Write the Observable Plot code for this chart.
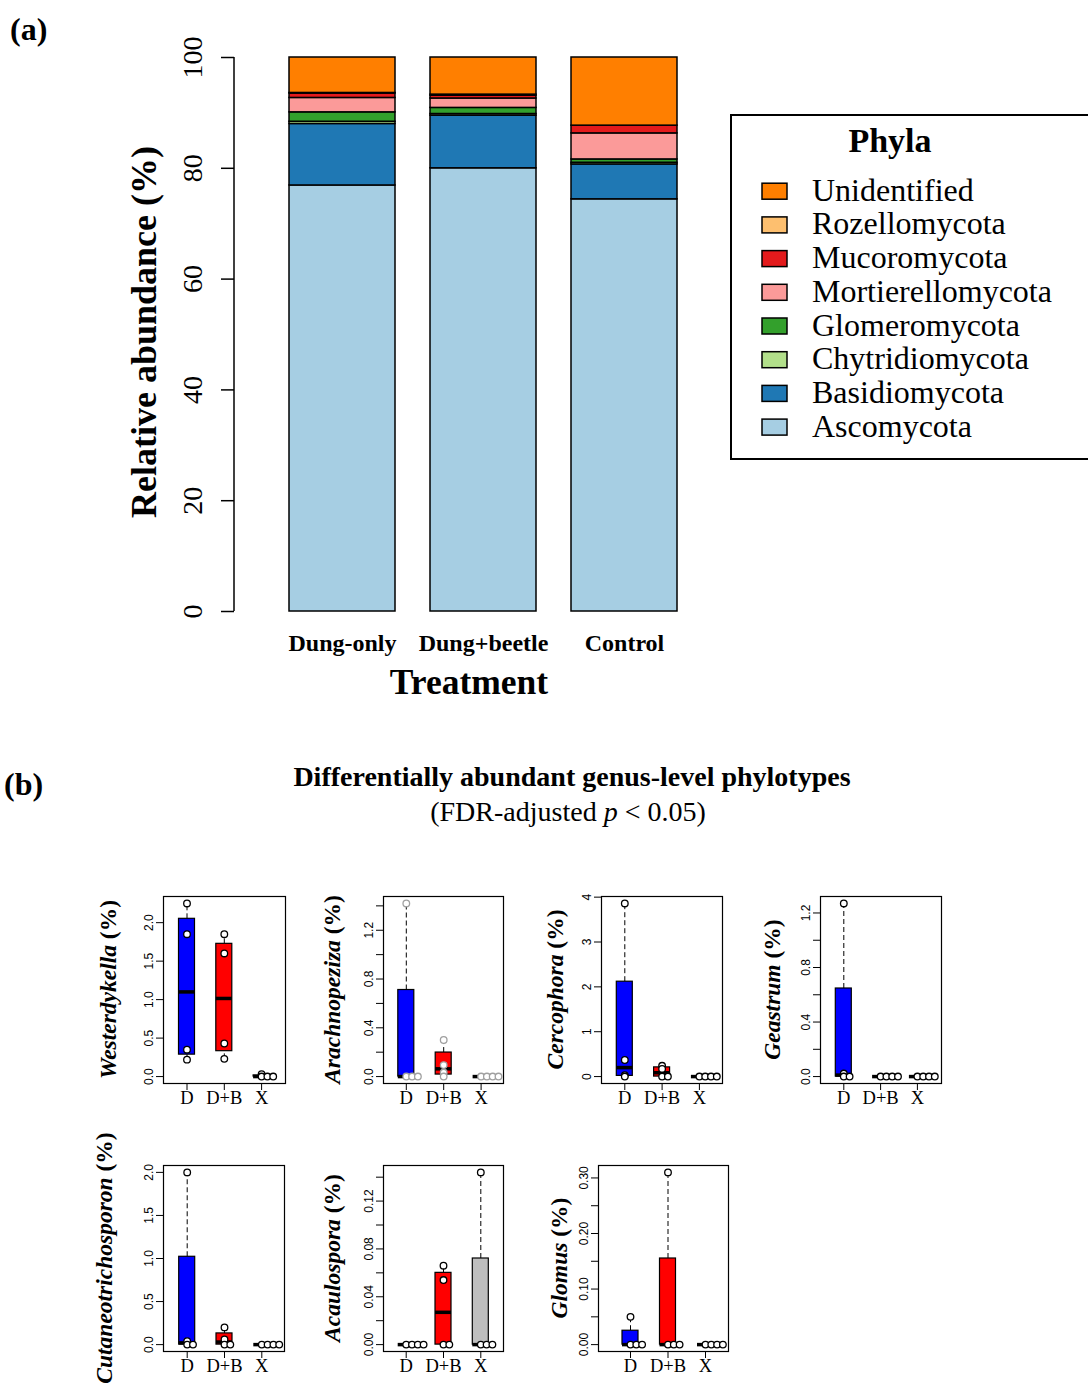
<!DOCTYPE html>
<html><head><meta charset="utf-8">
<script src="https://cdn.jsdelivr.net/npm/d3@7"></script>
<script src="https://cdn.jsdelivr.net/npm/@observablehq/plot@0.6"></script>
<style>
html,body{margin:0;padding:0;background:#fff;}
#page{position:relative;width:1088px;height:1386px;overflow:hidden;background:#fff;font-family:"Liberation Serif","Times New Roman",serif;}
.abs{position:absolute;}
</style></head><body><div id="page"></div>
<script>
// ---------------- DATA ----------------
// Panel (a): relative abundance (%) of phyla per treatment
const treatments = ["Dung-only", "Dung+beetle", "Control"];
const phyla = ["Ascomycota", "Basidiomycota", "Chytridiomycota", "Glomeromycota", "Mortierellomycota", "Mucoromycota", "Rozellomycota", "Unidentified"];
const phylaColors = ["#A6CEE3", "#1F78B4", "#B2DF8A", "#33A02C", "#FB9A99", "#E31A1C", "#FDBF6F", "#FF7F00"];
const ascomycota = [76.9, 80.0, 74.4];
const basidiomycota = [11.1, 9.5, 6.3];
const chytridiomycota = [0.4, 0.3, 0.3];
const glomeromycota = [1.7, 1.1, 0.6];
const mortierellomycota = [2.6, 1.7, 4.7];
const mucoromycota = [0.8, 0.5, 1.4];
const rozellomycota = [0.1, 0.2, 0.0];
const unidentified = [6.4, 6.7, 12.3];
const yTicksA = [0, 20, 40, 60, 80, 100];

// Panel (b): genus relative abundance (%) per sample, groups D, D+B, X
const groupNames = ["D", "D+B", "X"];
const boxColors = ["#0000FF", "#FF0000", "#BEBEBE"];
const westerdykella = [[2.25, 1.85, 0.35, 0.22], [1.85, 1.60, 0.43, 0.23], [0.03, 0, 0, 0]];
const arachnopeziza = [[1.42, 0, 0, 0], [0.30, 0.094, 0.033, 0], [0, 0, 0, 0]];
const cercophora = [[3.86, 0.37, 0.03, 0], [0.24, 0.17, 0, 0], [0, 0, 0, 0]];
const geastrum = [[1.27, 0.022, 0, 0], [0, 0, 0, 0], [0, 0, 0, 0]];
const cutaneotrichosporon = [[2.0, 0.04, 0, 0], [0.20, 0.06, 0, 0], [0, 0, 0, 0]];
const acaulospora = [[0, 0, 0, 0], [0.066, 0.054, 0, 0], [0.144, 0, 0, 0]];
const glomus = [[0.05, 0, 0, 0], [0.31, 0, 0, 0], [0, 0, 0, 0]];

const westerdykellaTicks = [0, 0.5, 1.0, 1.5, 2.0];
const westerdykellaLabels = [0, 0.5, 1.0, 1.5, 2.0];
const arachnopezizaTicks = [0, 0.2, 0.4, 0.6, 0.8, 1.0, 1.2, 1.4];
const arachnopezizaLabels = [0, 0.4, 0.8, 1.2];
const cercophoraTicks = [0, 1, 2, 3, 4];
const cercophoraLabels = [0, 1, 2, 3, 4];
const geastrumTicks = [0, 0.2, 0.4, 0.6, 0.8, 1.0, 1.2];
const geastrumLabels = [0, 0.4, 0.8, 1.2];
const cutaneotrichosporonTicks = [0, 0.5, 1.0, 1.5, 2.0];
const cutaneotrichosporonLabels = [0, 0.5, 1.0, 1.5, 2.0];
const acaulosporaTicks = [0, 0.02, 0.04, 0.06, 0.08, 0.10, 0.12, 0.14];
const acaulosporaLabels = [0, 0.04, 0.08, 0.12];
const glomusTicks = [0, 0.05, 0.10, 0.15, 0.20, 0.25, 0.30];
const glomusLabels = [0, 0.10, 0.20, 0.30];

// ---------------- LAYOUT HELPERS ----------------
const page = document.getElementById("page");
function place(el, left, top, w) {
  const d = document.createElement("div");
  d.className = "abs";
  d.style.left = left + "px"; d.style.top = top + "px";
  if (w) d.style.width = w + "px";
  d.appendChild(el); page.appendChild(d); return el;
}

// ---------------- PANEL (a) ----------------
const phylumValues = [ascomycota, basidiomycota, chytridiomycota, glomeromycota, mortierellomycota, mucoromycota, rozellomycota, unidentified];
const rowsA = [];
phyla.forEach((p, j) => treatments.forEach((t, i) => rowsA.push({treatment: t, phylum: p, value: phylumValues[j][i]})));

const plotA = Plot.plot({
  width: 720, height: 720,
  marginLeft: 234, marginTop: 57, marginBottom: 109, marginRight: 10,
  x: {domain: treatments, range: [288, 678], paddingInner: 0.25, paddingOuter: 0},
  y: {domain: [0, 100]},
  color: {domain: phyla, range: phylaColors},
  style: {fontFamily: "Liberation Serif", background: "transparent", overflow: "visible", color: "black", maxWidth: "none"},
  marks: [
    Plot.barY(rowsA, {x: "treatment", y: "value", fill: "phylum", stroke: "black", strokeWidth: 1.5}),
    Plot.axisY({ticks: yTicksA, tickRotate: -90, tickSize: 13, tickPadding: 20, fontSize: 28, label: null, strokeWidth: 1.5}),
    Plot.axisX({tickSize: 0, tickPadding: 22, fontSize: 24, fontWeight: "bold", label: null})
  ]
});
{
  const ys = plotA.scale("y");
  d3.select(plotA).append("line")
    .attr("x1", 234).attr("x2", 234)
    .attr("y1", ys.apply(0)).attr("y2", ys.apply(100))
    .attr("stroke", "black").attr("stroke-width", 1.5);
}
place(plotA, 0, 0, 720);

// ---------------- PANEL (b) ----------------
function fivenum(v) {
  const s = v.slice().sort(d3.ascending);
  const n = s.length;
  const n4 = Math.floor((n + 3) / 2) / 2;
  const idx = [1, n4, (n + 1) / 2, n + 1 - n4, n];
  return idx.map(k => 0.5 * (s[Math.floor(k) - 1] + s[Math.ceil(k) - 1]));
}

function boxPanel(genus, values, ticks, labels, decimals, layout, pointStroke) {
  const [fl, ft, fw, fh, labX, off, ppu] = layout;
  const mL = 80, mT = 5, mR = 5, mB = 40;
  const all = values.flat();
  const mn = d3.min(all), mx = d3.max(all), r = mx - mn;
  const yDom = [mn - 0.04 * r, mx + 0.04 * r];
  const xDom = [1 - off / ppu, 1 + (fw - off) / ppu];
  const hw = 8 / ppu, step = 5.8 / ppu;
  const stats = values.map((v, gi) => {
    const f = fivenum(v);
    const iqr = f[3] - f[1];
    const lo = d3.min(v.filter(x => x >= f[1] - 1.5 * iqr));
    const hi = d3.max(v.filter(x => x <= f[3] + 1.5 * iqr));
    return {g: gi + 1, name: groupNames[gi], q1: f[1], med: f[2], q3: f[3], lo, hi};
  });
  const pts = [];
  values.forEach((v, gi) => {
    const seen = new Map();
    v.forEach(val => {
      const k = seen.get(val) || 0; seen.set(val, k + 1);
      pts.push({x: gi + 1 + k * step, y: val});
    });
  });
  const plot = Plot.plot({
    width: mL + fw + mR, height: mT + fh + mB,
    marginLeft: mL, marginTop: mT, marginRight: mR, marginBottom: mB,
    x: {domain: xDom},
    y: {domain: yDom},
    color: {domain: groupNames, range: boxColors},
    style: {fontFamily: "Liberation Serif", background: "transparent", overflow: "visible", color: "black", maxWidth: "none"},
    marks: [
      Plot.ruleX(stats, {x: "g", y1: "q3", y2: "hi", stroke: "black", strokeDasharray: "5,3"}),
      Plot.ruleX(stats, {x: "g", y1: "lo", y2: "q1", stroke: "black", strokeDasharray: "5,3"}),
      Plot.rect(stats, {x1: d => d.g - hw, x2: d => d.g + hw, y1: "q1", y2: "q3", fill: "name", stroke: "black", strokeWidth: 1.2}),
      Plot.ruleY(stats, {y: "med", x1: d => d.g - hw, x2: d => d.g + hw, stroke: "black", strokeWidth: 3.5}),
      Plot.dot(pts, {x: "x", y: "y", r: 3.3, fill: "white", stroke: pointStroke, strokeWidth: 1.3}),
      Plot.frame({stroke: "black", strokeWidth: 1.2}),
      Plot.axisY({ticks, tickFormat: d => labels.includes(d) ? d.toFixed(decimals) : "", tickRotate: -90, tickSize: 7, tickPadding: 4, fontSize: 12, fontFamily: "Liberation Sans", label: null}),
      Plot.axisX({ticks: [1, 2, 3], tickFormat: d => groupNames[d - 1], tickSize: 7, tickPadding: 0, fontSize: 18.5, label: null})
    ]
  });
  const t = d3.select(plot).append("text")
    .attr("transform", `translate(${labX - (fl - mL)},${mT + fh / 2}) rotate(-90)`)
    .attr("text-anchor", "middle").attr("dominant-baseline", "central")
    .attr("font-family", "Liberation Serif").attr("font-size", 23.5).attr("font-weight", "bold")
    .attr("fill", "black");
  t.append("tspan").attr("font-style", "italic").text(genus);
  t.append("tspan").text(" (%)");
  place(plot, fl - mL, ft - mT, mL + fw + mR);
}

// layout: frameLeft, frameTop, frameWidth, frameHeight, labelCenterX, firstTickOffset, pxPerUnit
boxPanel("Westerdykella", westerdykella, westerdykellaTicks, westerdykellaLabels, 1, [163, 896, 122, 187, 108, 23.5, 37.3], "black");
boxPanel("Arachnopeziza", arachnopeziza, arachnopezizaTicks, arachnopezizaLabels, 1, [383, 896, 120, 187, 332, 22.8, 37.4], "#A0A0A0");
boxPanel("Cercophora", cercophora, cercophoraTicks, cercophoraLabels, 0, [601, 896, 121, 187, 555, 23.3, 37.3], "black");
boxPanel("Geastrum", geastrum, geastrumTicks, geastrumLabels, 1, [820, 896, 121, 187, 772, 23.3, 36.8], "black");
boxPanel("Cutaneotrichosporon", cutaneotrichosporon, cutaneotrichosporonTicks, cutaneotrichosporonLabels, 1, [163, 1165, 121, 186, 104, 23.7, 37.3], "black");
boxPanel("Acaulospora", acaulospora, acaulosporaTicks, acaulosporaLabels, 2, [383, 1165, 120, 186, 332, 22.7, 37.3], "black");
boxPanel("Glomus", glomus, glomusTicks, glomusLabels, 2, [598, 1165, 130, 186, 559, 32, 37.5], "black");

// ---------------- TEXT & LEGEND OVERLAY ----------------
const ov = d3.create("svg").attr("width", 1088).attr("height", 1386)
  .style("position", "absolute").style("left", 0).style("top", 0).style("pointer-events", "none")
  .attr("font-family", "Liberation Serif").attr("fill", "black");
ov.append("text").attr("x", 10).attr("y", 40).attr("font-size", 32).attr("font-weight", "bold").text("(a)");
ov.append("text").attr("transform", "translate(156,332) rotate(-90)").attr("text-anchor", "middle")
  .attr("font-size", 36).attr("font-weight", "bold").text("Relative abundance (%)");
ov.append("text").attr("x", 469).attr("y", 694).attr("text-anchor", "middle")
  .attr("font-size", 35.5).attr("font-weight", "bold").text("Treatment");
ov.append("text").attr("x", 4).attr("y", 795).attr("font-size", 32).attr("font-weight", "bold").text("(b)");
ov.append("text").attr("x", 572).attr("y", 786).attr("text-anchor", "middle")
  .attr("font-size", 28).attr("font-weight", "bold").text("Differentially abundant genus-level phylotypes");
{
  const s = ov.append("text").attr("x", 568).attr("y", 821).attr("text-anchor", "middle").attr("font-size", 28);
  s.append("tspan").text("(FDR-adjusted ");
  s.append("tspan").attr("font-style", "italic").text("p");
  s.append("tspan").text(" < 0.05)");
}
// legend
ov.append("rect").attr("x", 731).attr("y", 115).attr("width", 380).attr("height", 344)
  .attr("fill", "none").attr("stroke", "black").attr("stroke-width", 2);
ov.append("text").attr("x", 890).attr("y", 152).attr("text-anchor", "middle")
  .attr("font-size", 34).attr("font-weight", "bold").text("Phyla");
const legendOrder = phyla.slice().reverse();
const legendColors = phylaColors.slice().reverse();
legendOrder.forEach((p, i) => {
  const base = 200.7 + i * 33.7;
  ov.append("rect").attr("x", 762).attr("y", base - 17.5).attr("width", 25).attr("height", 16)
    .attr("fill", legendColors[i]).attr("stroke", "black").attr("stroke-width", 1.5);
  ov.append("text").attr("x", 812).attr("y", base).attr("font-size", 32).text(p);
});
page.appendChild(ov.node());
</script></body></html>
